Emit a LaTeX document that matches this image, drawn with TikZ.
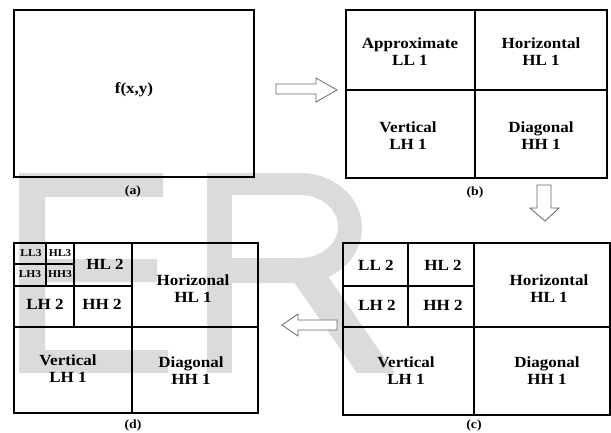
\documentclass[tikz,border=0pt]{standalone}
\usepackage{fontspec}
\setmainfont{Liberation Serif}[FakeStretch=1.1]
\usepackage{tikz}
\usetikzlibrary{positioning}
\tikzset{frame/.style={line width=1.6pt,line join=miter},
         cell/.style={font=\fontsize{15.5}{17}\selectfont\bfseries,align=center,inner sep=0pt},
         smallcell/.style={font=\fontsize{10.5}{11}\selectfont\bfseries,inner sep=0pt},
         capt/.style={font=\fontsize{12.5}{14}\selectfont\bfseries,inner sep=0pt},
         blockar/.style={draw=black!60,fill=white,line width=0.8pt,line join=miter},
         wmark/.style={fill=black!14}}

\begin{document}
\begin{tikzpicture}[x=1pt,y=-1pt]
\useasboundingbox (0,0) rectangle (611,432);
% faint letters behind everything
\fill[wmark] (19,173) rectangle (163,197) (19,173) rectangle (45,373)
  (19,259) rectangle (157,282) (19,350) rectangle (168,373);
\fill[wmark] (207,173) rectangle (232,373);
\fill[wmark,even odd rule] (231,173) -- (300,173)
    arc[start angle=90,end angle=-90,x radius=62pt,y radius=55pt] -- (231,283) -- cycle
  (231,195) -- (300,195)
    arc[start angle=90,end angle=-90,x radius=38pt,y radius=31.5pt] -- (231,258) -- cycle;
\fill[wmark] (280,262) -- (318,262) -- (395,373) -- (357,373) -- cycle;

% (a) input image
\draw[frame] (14,10) rectangle (254,177);
\node[cell] (fxy) at (134,90) {f(x,y)};
\node[capt] (capa) at (133,191) {(a)};

% (b) first level
\draw[frame] (346,10) rectangle (607,178);
\draw[frame] (475,10) -- (475,178) (346,90) -- (607,90);
\node[cell] (ll1b) at (410,52) {Approximate\\LL 1};
\node[cell] (hl1b) at (541,52) {Horizontal\\HL 1};
\node[cell] (lh1b) at (408,136) {Vertical\\LH 1};
\node[cell] (hh1b) at (541,136) {Diagonal\\HH 1};
\node[capt] (capb) at (475,192) {(b)};

% (c) second level
\draw[frame] (343,243) rectangle (610,415);
\draw[frame] (474,243) -- (474,415) (343,327) -- (610,327)
  (408,243) -- (408,327) (343,286) -- (474,286);
\node[cell] (ll2c) at (376,265) {LL 2};
\node[cell] (hl2c) at (443,265) {HL 2};
\node[cell] (lh2c) at (377,305) {LH 2};
\node[cell] (hh2c) at (443,305) {HH 2};
\node[cell] (hl1c) at (549,289) {Horizontal\\HL 1};
\node[cell] (lh1c) at (406,371) {Vertical\\LH 1};
\node[cell] (hh1c) at (547,371) {Diagonal\\HH 1};
\node[capt] (capc) at (474,425) {(c)};

% (d) third level
\draw[frame] (14,243) rectangle (258,413);
\draw[frame] (132,243) -- (132,413) (14,327) -- (258,327)
  (74,243) -- (74,327) (14,286) -- (132,286)
  (46,243) -- (46,286) (14,264) -- (74,264);
\node[smallcell] (ll3d) at (31,253) {LL3};
\node[smallcell] (hl3d) at (60,253) {HL3};
\node[smallcell] (lh3d) at (30,274) {LH3};
\node[smallcell] (hh3d) at (60,274) {HH3};
\node[cell] (hl2d) at (105,264) {HL 2};
\node[cell] (lh2d) at (45,304) {LH 2};
\node[cell] (hh2d) at (102,304) {HH 2};
\node[cell] (hl1d) at (193,289) {Horizonal\\HL 1};
\node[cell] (lh1d) at (68,369) {Vertical\\LH 1};
\node[cell] (hh1d) at (191,371) {Diagonal\\HH 1};
\node[capt] (capd) at (133,425) {(d)};

% hollow arrows between the stages
\draw[blockar] (276,84) -- (316,84) -- (316,78) -- (337,90) -- (316,102)
  -- (316,94) -- (276,94) -- cycle;
\draw[blockar] (537,185) -- (551,185) -- (551,208) -- (559,208) -- (545,221)
  -- (530,208) -- (537,208) -- cycle;
\draw[blockar] (337,320) -- (298,320) -- (298,314) -- (282,325) -- (298,336)
  -- (298,330) -- (337,330) -- cycle;
\end{tikzpicture}
\end{document}
